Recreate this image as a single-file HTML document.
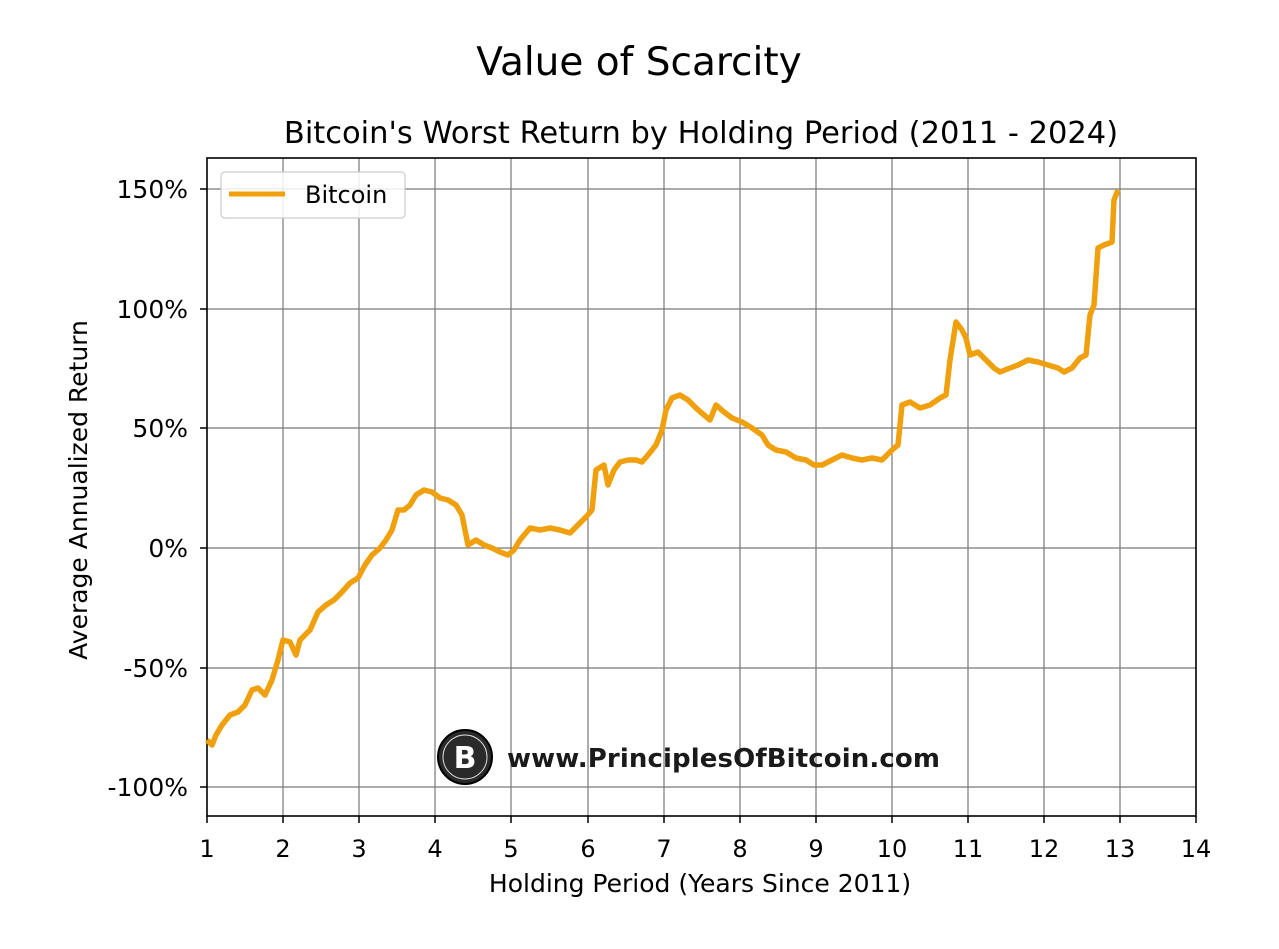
<!DOCTYPE html>
<html><head><meta charset="utf-8"><style>
html,body{margin:0;padding:0;background:#fff;}
svg text{font-family:"DejaVu Sans","Liberation Sans",sans-serif;fill:#000;}
</style></head><body>
<svg width="1279" height="944" xmlns="http://www.w3.org/2000/svg">
<rect width="1279" height="944" fill="#fff"/>
<text x="639" y="75" font-size="39" text-anchor="middle">Value of Scarcity</text>
<text x="701" y="143" font-size="30.5" text-anchor="middle">Bitcoin's Worst Return by Holding Period (2011 - 2024)</text>
<g stroke="#777" stroke-width="1.2">
<line x1="283" y1="158" x2="283" y2="816"/><line x1="359" y1="158" x2="359" y2="816"/>
<line x1="435" y1="158" x2="435" y2="816"/><line x1="511" y1="158" x2="511" y2="816"/>
<line x1="588" y1="158" x2="588" y2="816"/><line x1="664" y1="158" x2="664" y2="816"/>
<line x1="740" y1="158" x2="740" y2="816"/><line x1="816" y1="158" x2="816" y2="816"/>
<line x1="892" y1="158" x2="892" y2="816"/><line x1="968" y1="158" x2="968" y2="816"/>
<line x1="1044" y1="158" x2="1044" y2="816"/><line x1="1120" y1="158" x2="1120" y2="816"/>
<line x1="207" y1="189" x2="1196" y2="189"/><line x1="207" y1="309" x2="1196" y2="309"/>
<line x1="207" y1="428" x2="1196" y2="428"/><line x1="207" y1="548" x2="1196" y2="548"/>
<line x1="207" y1="668" x2="1196" y2="668"/><line x1="207" y1="787" x2="1196" y2="787"/>
</g>
<rect x="207" y="158" width="989" height="658" fill="none" stroke="#000" stroke-width="1.6"/>
<g stroke="#000" stroke-width="1.5">
<line x1="207" y1="816" x2="207" y2="823"/><line x1="283" y1="816" x2="283" y2="823"/><line x1="359" y1="816" x2="359" y2="823"/><line x1="435" y1="816" x2="435" y2="823"/><line x1="511" y1="816" x2="511" y2="823"/><line x1="588" y1="816" x2="588" y2="823"/><line x1="664" y1="816" x2="664" y2="823"/><line x1="740" y1="816" x2="740" y2="823"/><line x1="816" y1="816" x2="816" y2="823"/><line x1="892" y1="816" x2="892" y2="823"/><line x1="968" y1="816" x2="968" y2="823"/><line x1="1044" y1="816" x2="1044" y2="823"/><line x1="1120" y1="816" x2="1120" y2="823"/><line x1="1196" y1="816" x2="1196" y2="823"/>
<line x1="200" y1="189" x2="207" y2="189"/><line x1="200" y1="309" x2="207" y2="309"/><line x1="200" y1="428" x2="207" y2="428"/><line x1="200" y1="548" x2="207" y2="548"/><line x1="200" y1="668" x2="207" y2="668"/><line x1="200" y1="787" x2="207" y2="787"/>
</g>
<g font-size="24" text-anchor="middle">
<text x="207" y="857">1</text><text x="283" y="857">2</text><text x="359" y="857">3</text><text x="435" y="857">4</text><text x="511" y="857">5</text><text x="588" y="857">6</text><text x="664" y="857">7</text><text x="740" y="857">8</text><text x="816" y="857">9</text><text x="892" y="857">10</text><text x="968" y="857">11</text><text x="1044" y="857">12</text><text x="1120" y="857">13</text><text x="1196" y="857">14</text>
</g>
<g font-size="25" text-anchor="end">
<text x="188" y="198">150%</text><text x="188" y="318">100%</text><text x="188" y="437">50%</text><text x="188" y="557">0%</text><text x="188" y="677">-50%</text><text x="188" y="796">-100%</text>
</g>
<text x="700" y="892" font-size="25" text-anchor="middle">Holding Period (Years Since 2011)</text>
<text transform="translate(87,490) rotate(-90)" font-size="25" text-anchor="middle">Average Annualized Return</text>
<circle cx="465" cy="757" r="27" fill="#2a2a2a" stroke="#000" stroke-width="2"/>
<circle cx="465" cy="757" r="22" fill="none" stroke="#ddd" stroke-width="1"/>
<text x="465" y="768" font-size="30" font-weight="bold" text-anchor="middle" style="fill:#fff">B</text>
<text x="507" y="767" font-size="26" font-weight="bold" style="font-family:'DejaVu Sans',sans-serif;fill:#1a1a1a" textLength="433">www.PrinciplesOfBitcoin.com</text>
<polyline fill="none" stroke="#f0a00c" stroke-width="5.5" stroke-linejoin="round" points="207,740 212,745 216,735 222,725 230,715 238,712 245,705 252,690 258,688 265,695 272,680 278,660 283,640 290,642 296,655 300,640 310,630 318,612 326,605 334,600 342,592 350,583 358,578 365,565 372,555 380,548 386,540 392,530 398,510 404,510 410,505 416,495 424,490 432,492 440,498 448,500 456,505 462,515 468,545 476,540 484,545 492,548 500,552 508,555 514,550 520,540 530,528 540,530 550,528 560,530 570,533 578,525 586,517 592,510 596,470 604,465 608,485 614,470 620,462 628,460 636,460 642,462 648,455 656,445 662,430 666,410 672,398 680,395 688,400 696,408 704,415 710,420 716,405 724,412 732,418 742,422 752,428 762,435 768,445 776,450 786,452 796,458 806,460 814,465 822,465 832,460 842,455 852,458 862,460 872,458 882,460 892,450 898,445 902,405 910,402 920,408 930,405 940,398 946,395 950,360 956,322 962,330 966,338 970,355 978,352 986,360 994,368 1000,372 1010,368 1018,365 1028,360 1038,362 1048,365 1058,368 1064,372 1072,368 1080,358 1086,355 1090,315 1094,305 1098,248 1104,245 1112,242 1114,200 1118,190"/>
<rect x="221" y="172" width="184" height="46" rx="4" fill="#fff" fill-opacity="0.85" stroke="#ccc" stroke-width="1.2"/>
<line x1="229" y1="194" x2="285" y2="194" stroke="#f0a00c" stroke-width="5"/>
<text x="305" y="203" font-size="24">Bitcoin</text>
</svg>
</body></html>
